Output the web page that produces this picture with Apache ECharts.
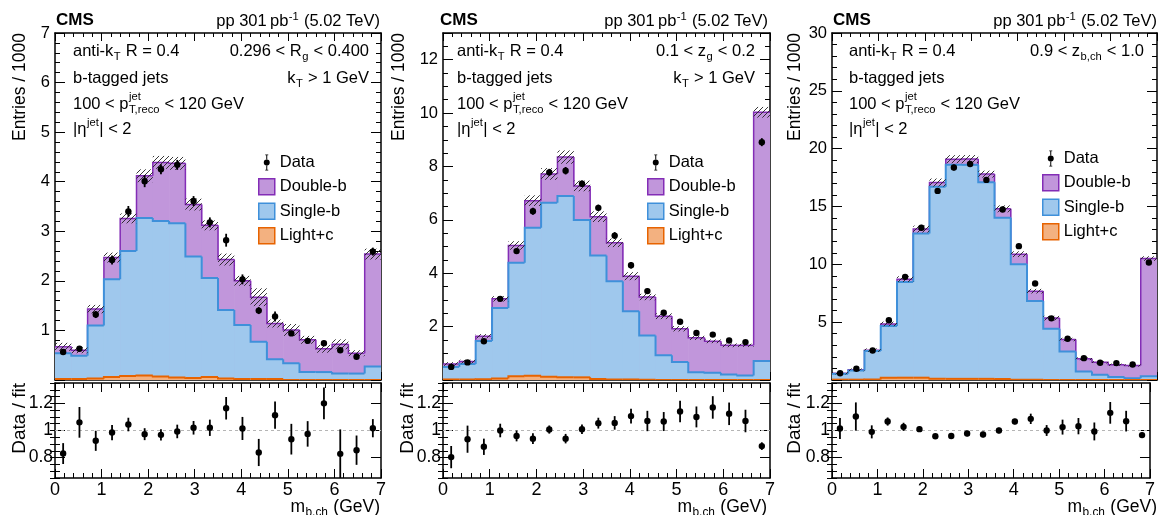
<!DOCTYPE html>
<html><head><meta charset="utf-8">
<script src="https://cdn.jsdelivr.net/npm/echarts@6/dist/echarts.min.js"></script>
<style>html,body{margin:0;padding:0;background:#fff}#c{width:1158px;height:515px}</style>
</head><body><div id="c"></div>
<script>
// ---- data ----
const binEdges = [0,0.35,0.7,1.05,1.4,1.75,2.1,2.45,2.8,3.15,3.5,3.85,4.2,4.55,4.9,5.25,5.6,5.95,6.3,6.65,7];
const xTicks = [0,1,2,3,4,5,6,7];
const ratioTicks = [0.8,1,1.2];

// Panel 1 : 0.296 < Rg < 0.400
const p1Light  = [0.02,0.02,0.03,0.06,0.08,0.09,0.07,0.05,0.04,0.06,0.03,0.02,0.02,0.02,0,0,0,0,0,0];
const p1Single = [0.52,0.47,1.07,1.97,2.52,3.18,3.14,3.11,2.45,2.00,1.38,1.09,0.75,0.40,0.34,0.16,0.16,0.13,0.13,0.27];
const p1Double = [0.13,0.11,0.33,0.44,0.66,0.85,1.18,1.21,1.05,1.06,1.02,0.89,0.90,0.72,0.67,0.65,0.47,0.59,0.41,2.27];
const p1Unc    = [0.08,0.06,0.085,0.1,0.1,0.13,0.13,0.13,0.12,0.1,0.12,0.1,0.18,0.08,0.12,0.08,0.08,0.1,0.06,0.11];
const p1Data   = [0.565,0.63,1.32,2.42,3.40,4.01,4.25,4.34,3.61,3.18,2.82,2.03,1.40,1.28,0.94,0.79,0.74,0.60,0.47,2.59];
const p1DataErr= [0.04,0.04,0.07,0.09,0.11,0.12,0.1,0.1,0.1,0.1,0.13,0.1,0.07,0.1,0.05,0.05,0.05,0.05,0.04,0.08];
const p1Ratio  = [0.83,1.06,0.924,0.985,1.044,0.973,0.968,0.993,1.02,1.02,1.164,1.015,0.838,1.113,0.936,0.975,1.2,0.828,0.855,1.017];
const p1RatioErr=[0.077,0.113,0.074,0.056,0.05,0.044,0.042,0.05,0.05,0.06,0.083,0.085,0.10,0.10,0.113,0.094,0.117,0.18,0.108,0.067];

// Panel 2 : 0.1 < zg < 0.2
const p2Light  = [0.02,0.02,0.03,0.06,0.14,0.16,0.12,0.1,0.1,0.04,0.02,0.02,0.01,0,0,0,0,0,0,0];
const p2Single = [0.47,0.58,1.43,2.64,4.25,5.54,6.52,6.79,5.89,4.62,3.68,2.56,1.66,0.93,0.67,0.29,0.27,0.21,0.17,0.71];
const p2Double = [0.11,0.09,0.18,0.34,0.65,1.02,1.08,1.46,1.28,1.46,1.44,1.31,1.44,1.46,1.25,1.29,1.18,1.09,1.13,9.32];
const p2Unc    = [0.07,0.07,0.08,0.1,0.16,0.2,0.22,0.25,0.2,0.2,0.16,0.15,0.12,0.11,0.1,0.08,0.07,0.07,0.06,0.2];
const p2Data   = [0.49,0.66,1.45,3.04,4.83,6.32,7.78,7.84,7.35,6.45,5.41,4.30,3.33,2.52,2.18,1.76,1.70,1.48,1.42,8.91];
const p2DataErr= [0.04,0.04,0.06,0.08,0.1,0.13,0.13,0.14,0.12,0.12,0.13,0.12,0.1,0.09,0.08,0.07,0.07,0.06,0.06,0.15];
const p2Ratio  = [0.804,0.936,0.88,1.0,0.96,0.94,1.007,0.94,1.01,1.054,1.056,1.106,1.07,1.066,1.14,1.10,1.17,1.123,1.07,0.885];
const p2RatioErr=[0.082,0.1,0.06,0.05,0.04,0.04,0.03,0.035,0.035,0.04,0.05,0.055,0.075,0.07,0.08,0.077,0.083,0.083,0.083,0.028];

// Panel 3 : 0.9 < zb,ch < 1.0
const p3Light  = [0.03,0.03,0.05,0.2,0.2,0.2,0.1,0.1,0.1,0.1,0.08,0.03,0.02,0.01,0,0,0,0,0,0];
const p3Single = [0.50,0.79,2.45,4.47,8.28,12.47,16.6,18.5,18.5,17.0,13.95,9.97,6.81,4.43,2.47,0.74,0.45,0.25,0.16,0.33];
const p3Double = [0.05,0.06,0.08,0.18,0.24,0.38,0.37,0.49,0.5,0.7,0.77,0.88,0.85,0.91,1.03,1.10,1.08,1.07,1.10,10.17];
const p3Unc    = [0.1,0.12,0.15,0.2,0.25,0.3,0.35,0.35,0.35,0.3,0.3,0.25,0.2,0.2,0.15,0.12,0.1,0.1,0.1,0.2];
const p3Data   = [0.59,0.97,2.55,5.16,8.92,13.16,16.35,18.37,18.68,17.3,14.75,11.57,8.34,5.33,3.57,1.89,1.49,1.46,1.34,10.16];
const p3DataErr= [0.05,0.08,0.1,0.15,0.2,0.25,0.25,0.25,0.25,0.25,0.25,0.2,0.2,0.15,0.12,0.1,0.08,0.08,0.08,0.2];
const p3Ratio  = [1.015,1.103,0.99,1.066,1.027,1.01,0.958,0.96,0.978,0.97,1.0,1.066,1.086,1.0,1.025,1.032,0.993,1.13,1.069,0.966];
const p3RatioErr=[0.077,0.104,0.048,0.03,0.03,0.02,0.015,0.015,0.02,0.02,0.02,0.02,0.038,0.04,0.055,0.06,0.066,0.08,0.076,0.02];

const legendNames = ['Data','Double-b','Single-b','Light+c'];
const yTitle = 'Entries / 1000';
const rTitle = 'Data / fit';

// ---- layout / style ----
const FONT = '"Liberation Sans", Arial, Helvetica, sans-serif';
const C = {db:'#832db6', dbFill:'#c196db', sb:'#3f90da', sbFill:'#9fc8ed', lc:'#e76300', lcFill:'#f3b180'};
const panels = [
  {left:55, width:326, yMax:7, yInt:1, yMinor:5, showMax:true,
   light:p1Light, single:p1Single, dbl:p1Double, unc:p1Unc, data:p1Data, dataErr:p1DataErr, ratio:p1Ratio, ratioErr:p1RatioErr,
   cmsX:56, ppR:380, annL:73, annR:369, legL:258, legT:154, yTX:20, rTX:20, xTR:380,
   rightLines:[['0.296 < R',{sub:'g'},' < 0.400'],['k',{sub:'T'},' > 1 GeV']]},
  {left:443, width:327, yMax:13, yInt:2, yMinor:4, showMax:false,
   light:p2Light, single:p2Single, dbl:p2Double, unc:p2Unc, data:p2Data, dataErr:p2DataErr, ratio:p2Ratio, ratioErr:p2RatioErr,
   cmsX:440, ppR:768, annL:457, annR:755, legL:647, legT:154, yTX:399, rTX:408, xTR:767,
   rightLines:[['0.1 < z',{sub:'g'},' < 0.2'],['k',{sub:'T'},' > 1 GeV']]},
  {left:832, width:325, yMax:30, yInt:5, yMinor:5, showMax:true,
   light:p3Light, single:p3Single, dbl:p3Double, unc:p3Unc, data:p3Data, dataErr:p3DataErr, ratio:p3Ratio, ratioErr:p3RatioErr,
   cmsX:833, ppR:1157, annL:849, annR:1144, legL:1042, legT:150, yTX:795, rTX:795, xTR:1157,
   rightLines:[['0.9 < z',{sub:'b,ch'},' < 1.0']]}
];
const leftLines = [
  ['anti-k',{sub:'T'},' R = 0.4'],
  ['b-tagged jets'],
  ['100 < p',{sup:'jet', sub:'T,reco', supDy:-9}, ' < 120 GeV'],
  ['|\u03b7',{sup:'jet', supDy:-8},'| < 2']
];
const lineBase = [57.3, 84, 110, 135];

// hatch pattern
const hc = document.createElement('canvas'); hc.width = 5; hc.height = 5;
const hx = hc.getContext('2d'); hx.strokeStyle = '#222'; hx.lineWidth = 0.9;
hx.beginPath(); hx.moveTo(0,5); hx.lineTo(5,0); hx.moveTo(-1,1); hx.lineTo(1,-1); hx.moveTo(4,6); hx.lineTo(6,4); hx.stroke();
const hatch = {image: hc, repeat: 'repeat'};

// text helper
const mctx = document.createElement('canvas').getContext('2d');
function textW(s, f, w){ mctx.font = (w||'normal') + ' ' + f + 'px ' + FONT; return mctx.measureText(s).width; }
function richLine(segs, x, base, align, f, weight){
  const fs = Math.round(f*0.68*10)/10;
  const parts = []; let w = 0;
  segs.forEach(s => {
    if (typeof s === 'string') { parts.push({t:s, dx:w, base:base, f:f, wt:weight}); w += textW(s, f, weight); }
    else {
      let ww = 0;
      if (s.sup) { parts.push({t:s.sup, dx:w+0.5, base:base + (s.supDy!=null ? s.supDy : -0.42*f), f:fs}); ww = Math.max(ww, textW(s.sup, fs)); }
      if (s.sub) { parts.push({t:s.sub, dx:w+0.5, base:base + (s.subDy!=null ? s.subDy : 0.24*f), f:fs}); ww = Math.max(ww, textW(s.sub, fs)); }
      w += ww + 1;
    }
  });
  const x0 = align === 'right' ? x - w : x;
  return parts.map(p => ({type:'text', silent:true, x:x0+p.dx, y:p.base - 0.35*p.f,
    style:{text:p.t, font:(p.wt ? p.wt+' ' : '') + p.f + 'px ' + FONT, fill:'#000',
           align:'left', verticalAlign:'middle', textAlign:'left', textVerticalAlign:'middle'}}));
}

// render helpers
function stepRender(fill, stroke, lw){
  return function(params, api){
    const x0 = api.value(0), x1 = api.value(1), top = api.value(2), prev = api.value(3);
    const pL = api.coord([x0, top]), pR = api.coord([x1, top]), pB = api.coord([x1, 0]), pP = api.coord([x0, prev]);
    return {type:'group', children:[
      {type:'rect', shape:{x:pL[0], y:pL[1], width:pR[0]-pL[0]+0.6, height:pB[1]-pL[1]}, style:{fill:fill}},
      {type:'polyline', shape:{points:[[pP[0],pP[1]],[pL[0],pL[1]],[pR[0],pR[1]]]}, style:{stroke:stroke, lineWidth:lw, fill:null}}
    ]};
  };
}
function bandRender(params, api){
  const x0 = api.value(0), x1 = api.value(1), t = api.value(2), u = api.value(3);
  const a = api.coord([x0, t+u]), b = api.coord([x1, t-u]);
  return {type:'rect', shape:{x:a[0], y:a[1], width:b[0]-a[0], height:b[1]-a[1]}, style:{fill:hatch}};
}
function pointRender(params, api){
  const x = api.value(0), y = api.value(1), e = api.value(2);
  const c = api.coord([x, y]), lo = api.coord([x, y-e]), hi = api.coord([x, y+e]);
  return {type:'group', children:[
    {type:'line', shape:{x1:c[0], y1:lo[1], x2:c[0], y2:hi[1]}, style:{stroke:'#000', lineWidth:1.8}},
    {type:'circle', shape:{cx:c[0], cy:c[1], r:3.2}, style:{fill:'#000'}}
  ]};
}

const grids = [], xAxes = [], yAxes = [], series = [], legends = [], graphics = [];
const lineStyle = {color:'#000', width:1.5};
const tickStyle = {color:'#000', width:1};
const DATA_ICON = 'path://M1.5,0H4.5V0.8H3.5V5.2H2.5V0.8H1.5Z M2.5,10.8H3.5V15.2H4.5V16H1.5V15.2H2.5Z M0,8A3,3 0 1,0 6,8A3,3 0 1,0 0,8Z';

panels.forEach((P, k) => {
  grids.push({left:P.left, top:33, width:P.width, height:347});
  grids.push({left:P.left, top:383, width:P.width, height:95});
  const gm = 2*k, gr = 2*k+1;
  function xa(grid, pos, major, minor, labels){
    return {type:'value', gridIndex:grid, position:pos, min:0, max:7, interval:1,
      axisLine:{show:true, onZero:false, lineStyle:lineStyle},
      axisTick:{show:true, inside:true, length:major, lineStyle:tickStyle},
      minorTick:{show:true, splitNumber:5, length:minor, lineStyle:tickStyle},
      axisLabel: labels ? {show:true, fontSize:18, fontFamily:FONT, color:'#000', margin:3, customValues:xTicks} : {show:false},
      splitLine:{show:false}, minorSplitLine:{show:false}};
  }
  xAxes.push(xa(gm,'bottom',8,4,false), xa(gm,'top',8,4,false), xa(gr,'bottom',9,5,true), xa(gr,'top',9,5,false));
  function ya(pos, labels){
    return {type:'value', gridIndex:gm, position:pos, min:0, max:P.yMax, interval:P.yInt,
      axisLine:{show:true, onZero:false, lineStyle:lineStyle},
      axisTick:{show:true, inside:true, length:10, lineStyle:tickStyle},
      minorTick:{show:true, splitNumber:P.yMinor, length:5, lineStyle:tickStyle},
      axisLabel: labels ? {show:true, fontSize:16.5, fontFamily:FONT, color:'#000', margin:5, showMinLabel:false, showMaxLabel:P.showMax} : {show:false},
      splitLine:{show:false}, minorSplitLine:{show:false}};
  }
  function ra(pos, labels){
    return {type:'value', gridIndex:gr, position:pos, min:0.65, max:1.35,
      axisLine:{show:true, onZero:false, lineStyle:lineStyle},
      axisTick:{show:true, inside:true, length:10, lineStyle:tickStyle, customValues:ratioTicks},
      axisLabel: labels ? {show:true, fontSize:17.5, fontFamily:FONT, color:'#000', margin:2, customValues:ratioTicks,
                           formatter: v => (Math.abs(v-1)<1e-6 ? '1' : v.toFixed(1))} : {show:false},
      splitLine:{show:false}};
  }
  function rm(pos){
    return {type:'value', gridIndex:gr, position:pos, min:0.65, max:1.35, interval:0.05,
      axisLine:{show:false}, axisTick:{show:true, inside:true, length:5, lineStyle:tickStyle},
      axisLabel:{show:false}, splitLine:{show:false}};
  }
  yAxes.push(ya('left',true), ya('right',false), ra('left',true), ra('right',false), rm('left'), rm('right'));

  const xm = 4*k, ym = 6*k, xr = 4*k+2, yr = 6*k+2;
  const sTop = P.light.map((l,i) => l + P.single[i]);
  const tot = sTop.map((s,i) => s + P.dbl[i]);
  const stepData = tops => tops.map((t,i) => [binEdges[i], binEdges[i+1], t, i ? tops[i-1] : t]);
  const centers = binEdges.slice(0,-1).map((e,i) => (e + binEdges[i+1]) / 2);
  const base = {type:'custom', xAxisIndex:xm, yAxisIndex:ym, clip:true, silent:true, animation:false};
  series.push(Object.assign({}, base, {name:'Double-b', z:2, itemStyle:{color:C.dbFill}, renderItem:stepRender(C.dbFill, C.db, 1.5), data:stepData(tot)}));
  series.push(Object.assign({}, base, {name:'Single-b', z:3, itemStyle:{color:C.sbFill}, renderItem:stepRender(C.sbFill, C.sb, 2), data:stepData(sTop)}));
  series.push(Object.assign({}, base, {name:'Light+c', z:4, itemStyle:{color:C.lcFill}, renderItem:stepRender(C.lcFill, C.lc, 2), data:stepData(P.light)}));
  series.push(Object.assign({}, base, {name:'Fit uncertainty', z:5, renderItem:bandRender, data:tot.map((t,i) => [binEdges[i], binEdges[i+1], t, P.unc[i]])}));
  series.push(Object.assign({}, base, {name:'Data', z:6, itemStyle:{color:'#000'}, renderItem:pointRender, data:P.data.map((v,i) => [centers[i], v, P.dataErr[i]])}));
  series.push(Object.assign({}, base, {name:'Data / fit', xAxisIndex:xr, yAxisIndex:yr, z:6, renderItem:pointRender,
    data:P.ratio.map((v,i) => [centers[i], v, P.ratioErr[i]]),
    markLine:{silent:true, symbol:'none', label:{show:false}, animation:false,
      lineStyle:{type:[3,3], color:'#b5b5b5', width:1}, data:[{yAxis:1}]}}));

  legends.push({orient:'vertical', left:P.legL, top:P.legT, itemWidth:16, itemHeight:16, itemGap:7, padding:0,
    selectedMode:false, textStyle:{fontSize:16.5, fontFamily:FONT, color:'#000'},
    data:[
      {name:legendNames[0], icon:DATA_ICON, itemStyle:{color:'#000', borderWidth:0}},
      {name:legendNames[1], icon:'rect', itemStyle:{color:C.dbFill, borderColor:C.db, borderWidth:1.5}},
      {name:legendNames[2], icon:'rect', itemStyle:{color:C.sbFill, borderColor:C.sb, borderWidth:1.5}},
      {name:legendNames[3], icon:'rect', itemStyle:{color:C.lcFill, borderColor:C.lc, borderWidth:1.5}}
    ]});

  graphics.push(...richLine(['CMS'], P.cmsX, 26.7, 'left', 17, 'bold'));
  graphics.push(...richLine(['pp 301\u2009pb',{sup:'-1', supDy:-6},' (5.02 TeV)'], P.ppR, 27.3, 'right', 16.5));
  leftLines.forEach((segs, j) => graphics.push(...richLine(segs, P.annL, lineBase[j], 'left', 16.5)));
  P.rightLines.forEach((segs, j) => graphics.push(...richLine(segs, P.annR, lineBase[j], 'right', 16.5)));
  graphics.push({type:'text', silent:true, x:P.yTX, y:33, rotation:Math.PI/2,
    style:{text:yTitle, font:'17.5px '+FONT, fill:'#000', align:'right', verticalAlign:'middle', textAlign:'right', textVerticalAlign:'middle'}});
  graphics.push({type:'text', silent:true, x:P.rTX, y:383, rotation:Math.PI/2,
    style:{text:rTitle, font:'19px '+FONT, fill:'#000', align:'right', verticalAlign:'middle', textAlign:'right', textVerticalAlign:'middle'}});
  graphics.push(...richLine(['m',{sub:'b,ch', subDy:4},' (GeV)'], P.xTR, 513, 'right', 17.5));
});

const chart = echarts.init(document.getElementById('c'), null, {renderer:'canvas'});
chart.setOption({
  animation:false, backgroundColor:'#fff',
  textStyle:{fontFamily:FONT},
  grid:grids, xAxis:xAxes, yAxis:yAxes, series:series, legend:legends,
  graphic:{elements:graphics}
});
</script></body></html>
